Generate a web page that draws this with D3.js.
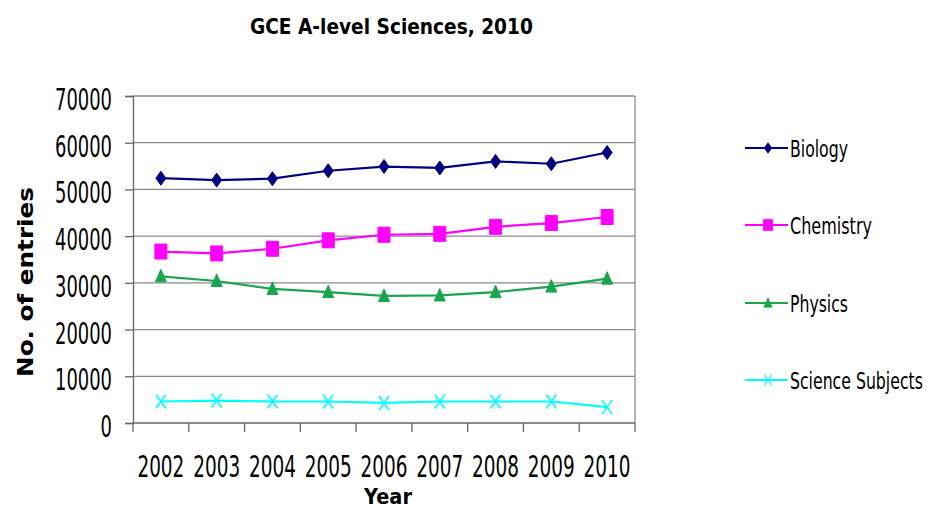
<!DOCTYPE html>
<html>
<head>
<meta charset="utf-8">
<script src="https://cdn.jsdelivr.net/npm/d3@7"></script>
<style>
  html, body { margin: 0; padding: 0; background: #fff; }
  svg { display: block; }
  text { font-family: "DejaVu Sans", sans-serif; fill: #000; }
</style>
</head>
<body>
<svg id="chart" width="927" height="509"></svg>
<script>
const years = ["2002", "2003", "2004", "2005", "2006", "2007", "2008", "2009", "2010"];
const biology = [52400, 52000, 52300, 54000, 54900, 54600, 56000, 55500, 57900];
const chemistry = [36700, 36300, 37300, 39100, 40300, 40500, 42000, 42800, 44100];
const physics = [31400, 30400, 28700, 28000, 27200, 27300, 28000, 29200, 30900];
const scienceSubjects = [4600, 4800, 4600, 4600, 4300, 4600, 4600, 4600, 3400];
const yTicks = [0, 10000, 20000, 30000, 40000, 50000, 60000, 70000];
const seriesNames = ["Biology", "Chemistry", "Physics", "Science Subjects"];
const seriesColors = ["#000080", "#ff00ff", "#19a64f", "#00ffff"];
const seriesMarkers = ["diamond", "square", "triangle", "cross"];
const titleText = "GCE A-level Sciences, 2010";
const xTitle = "Year";
const yTitle = "No. of entries";

const seriesValues = [biology, chemistry, physics, scienceSubjects];
const series = seriesNames.map((name, i) => ({
  name, color: seriesColors[i], marker: seriesMarkers[i],
  values: years.map((y, j) => ({ year: y, value: seriesValues[i][j] }))
}));

// Draw a horizontally condensed text: left edge at x, baseline at y, width w
function narrowText(parent, str, x, y, w, size, weight, rotate) {
  const t = parent.append("text").attr("font-size", size)
    .attr("font-weight", weight || "normal").text(str);
  const natural = t.node().getComputedTextLength();
  const k = w / natural;
  t.attr("transform", `translate(${x},${y})${rotate ? " rotate(-90)" : ""} scale(${k},1)`);
  return t;
}

const svg = d3.select("#chart");
const plot = { left: 133, right: 635, top: 96, bottom: 423 };

const x = d3.scaleBand().domain(years).range([plot.left, plot.right]).padding(0);
const y = d3.scaleLinear().domain([0, 70000]).range([plot.bottom, plot.top]);
const cx = d => x(d) + x.bandwidth() / 2;

// Gridlines
svg.append("g").selectAll("line").data(yTicks.filter(t => t > 0)).join("line")
  .attr("x1", plot.left).attr("x2", plot.right)
  .attr("y1", d => y(d)).attr("y2", d => y(d))
  .attr("stroke", "#8a8a8a").attr("stroke-width", 1.3);

// Plot border (right side)
svg.append("line").attr("x1", plot.right).attr("x2", plot.right)
  .attr("y1", plot.top).attr("y2", plot.bottom)
  .attr("stroke", "#8a8a8a").attr("stroke-width", 1.3);

// Y axis (line + ticks via d3.axisLeft; labels drawn condensed)
const yAxis = d3.axisLeft(y).tickValues(yTicks).tickSize(8).tickFormat("");
const gy = svg.append("g").attr("transform", `translate(${plot.left},0)`).call(yAxis);
gy.select(".domain").attr("stroke", "#666").attr("stroke-width", 1.3);
gy.selectAll(".tick line").attr("stroke", "#666").attr("stroke-width", 1.3);
const yl = svg.append("g");
yTicks.forEach(t => {
  const s = d3.format("d")(t);
  const w = s.length * 11.4;
  narrowText(yl, s, 112 - w, y(t) + 14, w, 31);
});

// X axis with ticks at band boundaries
const gx = svg.append("g").attr("transform", `translate(0,${plot.bottom})`);
gx.append("line").attr("x1", plot.left).attr("x2", plot.right).attr("y1", 0).attr("y2", 0)
  .attr("stroke", "#666").attr("stroke-width", 1.3);
const bounds = years.map(d => x(d)).concat([plot.right]);
gx.selectAll("line.tk").data(bounds).join("line").attr("class", "tk")
  .attr("x1", d => d).attr("x2", d => d).attr("y1", 0).attr("y2", 9)
  .attr("stroke", "#666").attr("stroke-width", 1.3);
const xl = svg.append("g");
years.forEach(d => narrowText(xl, d, cx(d) - 23.5, 477, 47, 29.5));

// Lines
const line = d3.line().x(d => cx(d.year)).y(d => y(d.value));
svg.append("g").selectAll("path").data(series).join("path")
  .attr("d", d => line(d.values)).attr("fill", "none")
  .attr("stroke", d => d.color).attr("stroke-width", 2.2);

function markerPath(type) {
  switch (type) {
    case "diamond": return "M0,-7L5,0L0,7L-5,0Z";
    case "square": return "M-6,-7.5H6V7.5H-6Z";
    case "triangle": return "M0,-7L5.5,5.5H-5.5Z";
    case "cross": return "M-5,-7L5,7M5,-7L-5,7";
  }
}

// Markers
series.forEach(s => {
  svg.append("g").selectAll("path").data(s.values).join("path")
    .attr("transform", d => `translate(${cx(d.year)},${y(d.value)})`)
    .attr("d", markerPath(s.marker))
    .attr("fill", s.marker === "cross" ? "none" : s.color)
    .attr("stroke", s.color).attr("stroke-width", s.marker === "cross" ? 1.6 : 1);
});

// Legend
const legendRows = [148, 225, 303, 380];
const legendWidths = [58, 82, 58, 133];
const lg = svg.append("g").selectAll("g").data(series).join("g")
  .attr("transform", (d, i) => `translate(745,${legendRows[i]})`);
lg.append("line").attr("x1", 0).attr("x2", 43).attr("y1", 0).attr("y2", 0)
  .attr("stroke", d => d.color).attr("stroke-width", 2.2);
lg.append("path").attr("transform", "translate(23,0) scale(0.75)")
  .attr("d", d => markerPath(d.marker))
  .attr("fill", d => d.marker === "cross" ? "none" : d.color)
  .attr("stroke", d => d.color).attr("stroke-width", d => d.marker === "cross" ? 1.6 : 1);
lg.each(function(d, i) {
  narrowText(d3.select(this), d.name, 45, 8.5, legendWidths[i], 23);
});

// Title
narrowText(svg, titleText, 250, 34, 283, 21, "bold");

// Axis titles
narrowText(svg, xTitle, 364, 503.5, 48, 22, "bold");
narrowText(svg, yTitle, 33, 377, 190, 21, "bold", true);
</script>
</body>
</html>
